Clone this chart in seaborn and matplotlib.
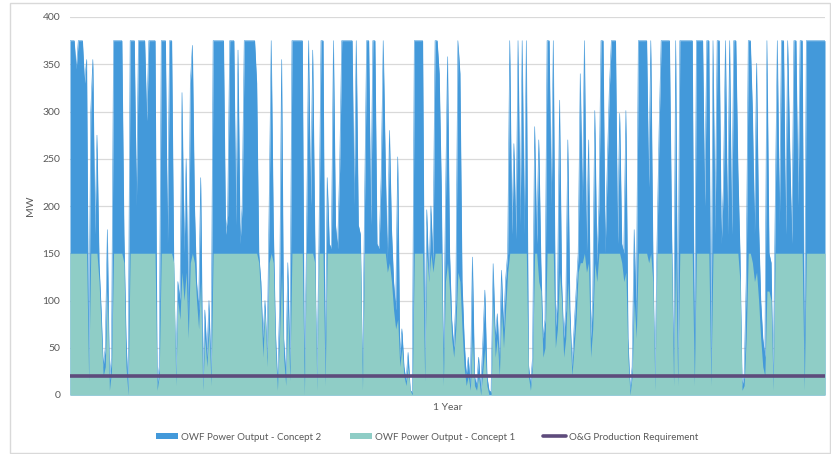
import numpy as np
import pandas as pd
import matplotlib
matplotlib.use("Agg")
import matplotlib.pyplot as plt
from matplotlib.patches import Patch, Rectangle
from matplotlib.lines import Line2D
import seaborn as sns

# ---- data (daily values over one year) ----
concept2 = [
    375,375,375,345,375,375,375,330,355,20,
    300,355,170,275,140,90,30,50,175,15,
    40,375,375,375,375,375,170,60,5,375,
    375,375,200,375,375,375,375,290,375,375,
    375,375,10,30,375,375,375,160,375,375,
    140,20,120,100,320,150,250,80,330,370,
    200,120,90,230,10,90,40,100,20,375,
    375,375,375,375,375,170,190,375,375,375,
    180,365,160,200,375,375,375,375,375,375,
    330,150,120,60,100,40,200,375,180,70,
    10,90,355,60,20,140,30,375,375,375,
    375,375,375,5,160,375,200,365,170,10,
    160,375,375,20,230,160,155,375,180,155,
    240,375,375,375,375,375,375,200,375,180,
    170,10,200,375,375,180,375,375,160,155,
    230,375,245,140,280,175,120,90,252,40,
    70,30,15,45,5,3,375,375,375,375,
    375,30,196,120,200,140,375,375,340,220,
    20,200,358,150,80,50,100,375,340,120,
    60,20,40,10,146,20,10,40,5,55,
    111,20,5,3,139,60,86,33,132,70,
    122,150,375,170,266,165,375,180,375,170,
    375,33,10,40,284,160,270,140,60,80,
    375,375,200,375,70,100,312,120,60,90,
    270,90,30,70,110,150,340,200,375,150,
    270,60,100,301,140,200,375,375,150,240,
    323,375,375,375,160,298,160,150,301,60,
    5,30,175,80,375,375,375,375,375,220,
    375,150,10,160,280,375,375,375,375,375,
    180,20,375,20,375,375,375,375,375,375,
    375,20,375,375,375,375,200,375,375,20,
    375,170,375,375,160,220,375,170,375,170,
    375,375,238,150,10,20,120,375,375,300,
    170,351,180,100,60,40,375,150,140,10,
    200,375,180,375,375,170,375,260,160,375,
    375,200,375,375,15,375,375,375,375,375,
    375,375,375,375,375,
]
concept1 = [
    150,150,150,150,150,150,150,150,150,15,
    150,150,150,150,120,70,20,30,110,5,
    25,150,150,150,150,150,140,30,0,150,
    150,150,150,150,150,150,150,150,150,150,
    150,150,5,20,150,150,150,150,150,150,
    140,10,100,80,130,100,130,60,140,150,
    140,100,70,120,5,60,30,70,10,150,
    150,150,150,150,150,150,150,150,150,150,
    150,150,150,150,150,150,150,150,150,150,
    150,140,100,40,90,30,140,150,140,50,
    5,60,130,40,10,90,15,150,150,150,
    150,150,150,0,150,150,150,150,140,5,
    150,150,150,10,150,150,150,150,150,150,
    150,150,150,150,150,150,150,150,150,150,
    150,5,150,150,150,150,150,150,150,150,
    150,150,150,130,140,120,90,70,80,30,
    50,20,10,30,5,0,150,150,150,150,
    150,15,150,120,150,130,150,150,150,150,
    10,120,140,110,60,40,70,130,120,70,
    30,10,20,5,60,10,5,20,0,25,
    50,10,0,0,100,40,60,20,90,50,
    90,130,150,150,150,150,150,150,150,150,
    150,20,5,30,150,150,120,110,40,50,
    150,150,150,150,50,70,130,100,40,60,
    120,70,20,50,80,130,140,140,150,130,
    140,40,70,140,120,150,150,150,150,150,
    150,150,150,150,150,150,140,120,130,40,
    0,20,100,60,150,150,150,150,150,140,
    150,120,5,150,150,150,150,150,150,150,
    150,10,150,10,150,150,150,150,150,150,
    150,10,150,150,150,150,150,150,150,10,
    150,150,150,150,150,150,150,150,150,150,
    150,150,150,120,5,10,60,150,150,140,
    120,130,100,60,30,20,110,110,100,5,
    150,150,150,150,150,150,150,150,150,150,
    150,150,150,150,5,150,150,150,150,150,
    150,150,150,150,150,
]
requirement_mw = 20
y_ticks = [0, 50, 100, 150, 200, 250, 300, 350, 400]
labels = ["OWF Power Output - Concept 2", "OWF Power Output - Concept 1", "O&G Production Requirement"]

days = np.arange(len(concept2))
df = pd.DataFrame({"day": days, "c2": concept2, "c1": concept1,
                   "req": [requirement_mw] * len(days)})

c_blue = "#4399DA"
c_teal = "#8FCDC6"
c_purple = "#5E4B7C"
c_text = "#595959"
c_grid = "#D9D9D9"

sns.set_theme(style="white")
plt.rcParams["font.family"] = ["Lato", "DejaVu Sans"]

fig = plt.figure(figsize=(8.31, 4.54), dpi=100)
ax = fig.add_axes([70 / 831, 59 / 454, 755 / 831, 378 / 454])

ax.fill_between(df["day"], df["c2"], 0, color=c_blue, lw=0, zorder=2)
sns.lineplot(data=df, x="day", y="c2", ax=ax, color=c_blue, lw=0.4, zorder=2)
ax.fill_between(df["day"], df["c1"], 0, color=c_teal, lw=0, zorder=3)
sns.lineplot(data=df, x="day", y="req", ax=ax, color=c_purple, lw=2.6, zorder=4)

ax.set_xlim(0, len(days) - 1)
ax.set_ylim(0, 400)
ax.set_yticks(y_ticks)
ax.set_xticks([])
ax.yaxis.grid(True, color=c_grid, lw=0.9, zorder=0)
ax.set_axisbelow(True)
for s in ax.spines.values():
    s.set_visible(False)
ax.tick_params(axis="y", labelsize=7.5, colors=c_text, length=0, pad=7)
ax.set_ylabel("MW", fontsize=7.5, color=c_text, labelpad=5)
ax.set_xlabel("1 Year", fontsize=7.5, color=c_text, labelpad=6)

handles = [
    Patch(facecolor=c_blue, edgecolor="none"),
    Patch(facecolor=c_teal, edgecolor="none"),
    Line2D([0], [0], color=c_purple, lw=2.6),
]
fig.legend(handles, labels, loc="center", bbox_to_anchor=(427 / 831, 1 - 437 / 454),
           ncol=3, frameon=False, fontsize=7, labelcolor=c_text,
           handlelength=2.3, handleheight=0.55, handletextpad=0.3, columnspacing=2.9)

fig.patches.append(Rectangle((10 / 831, 1 / 454), 820 / 831, 450 / 454,
                             transform=fig.transFigure, fill=False,
                             edgecolor=c_grid, lw=1))

fig.savefig("out.png", dpi=100)
